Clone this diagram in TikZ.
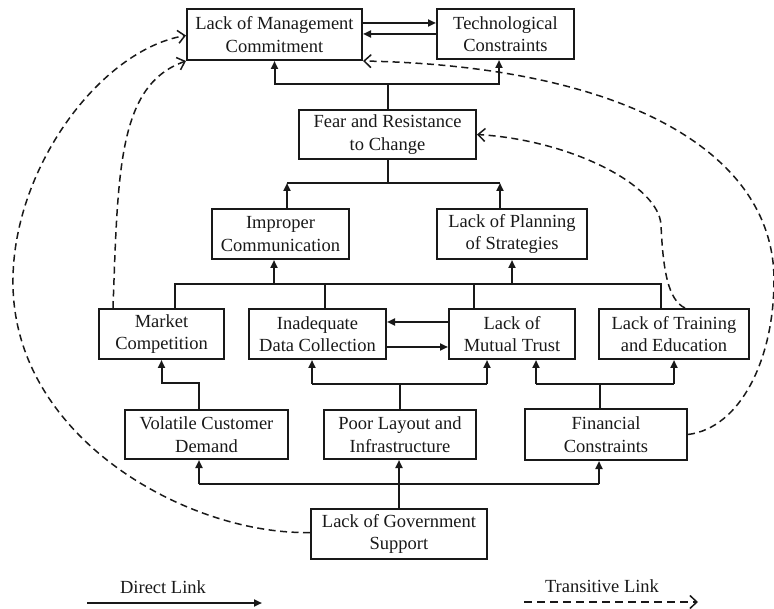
\documentclass[tikz,border=0pt]{standalone}
\usepackage{fontspec}
\setmainfont{Liberation Serif}
\usetikzlibrary{arrows.meta}
\begin{document}
\begin{tikzpicture}[x=1pt,y=-1pt,
 box/.style={draw=black!90, line width=2pt, minimum height=50pt, inner sep=0pt, align=center, font=\fontsize{18.5}{22.5}\selectfont, text=black!90},
 link/.style={line width=2pt, draw=black!90},
 arr/.style={link, -{Triangle[length=8pt,width=7pt]}},
 tlink/.style={line width=1.5pt, draw=black!90, dash pattern=on 7pt off 4.5pt, -{Straight Barb[length=7pt,width=13pt]}},
 lbl/.style={font=\fontsize{18.5}{22.5}\selectfont, text=black!90, inner sep=0pt}]
\useasboundingbox (0,0) rectangle (774,609);
% nodes
\node[box, minimum width=175pt, minimum height=51pt] (lmc) at (274.5,34.5) {Lack of Management\\Commitment};
\node[box, minimum width=137pt] (tc) at (505.5,34) {Technological\\Constraints};
\node[box, minimum width=177pt, minimum height=49pt] (frc) at (387.5,134.5) {Fear and Resistance\\to Change};
\node[box, minimum width=137pt] (ic) at (280.5,234) {Improper\\Communication};
\node[box, minimum width=150pt] (lps) at (512,234) {Lack of Planning\\of Strategies};
\node[box, minimum width=125pt] (mc) at (161.5,334) {Market\\Competition};
\node[box, minimum width=137pt] (idc) at (317.5,334) {Inadequate\\Data Collection};
\node[box, minimum width=126pt] (lmt) at (512,334) {Lack of\\Mutual Trust};
\node[box, minimum width=150pt] (lte) at (674,334) {Lack of Training\\and Education};
\node[box, minimum width=163pt, minimum height=49pt] (vcd) at (206.5,434.5) {Volatile Customer\\Demand};
\node[box, minimum width=152pt, minimum height=49pt] (pli) at (400,434.5) {Poor Layout and\\Infrastructure};
\node[box, minimum width=162pt, minimum height=51pt] (fc) at (606,434.5) {Financial\\Constraints};
\node[box, minimum width=176pt] (lgs) at (399,534) {Lack of Government\\Support};
% junction coordinates
\coordinate (j1) at (387.5,84);
\coordinate (j2) at (387.5,183);
\coordinate (j3) at (0,284);
\coordinate (j4) at (0,383);
\coordinate (j5) at (0,384);
\coordinate (j6) at (0,484);
% top pair
\draw[arr] ([yshift=11.5pt]lmc.east) -- ([yshift=11.5pt]lmc.east -| tc.west);
\draw[arr] (tc.west) -- (tc.west -| lmc.east);
% fear -> lmc, tc
\draw[link] (frc.north) -- (j1);
\draw[arr] (j1) -| (lmc.south);
\draw[arr] (j1) -| ([xshift=-6.5pt]tc.south);
% ic, lps -> fear
\draw[link] (frc.south) -- (j2);
\draw[link] ([xshift=6.5pt]ic.north |- j2) -- ([xshift=-12pt]lps.north |- j2);
\draw[arr] ([xshift=6.5pt]ic.north) -- ([xshift=6.5pt]ic.north |- j2);
\draw[arr] ([xshift=-12pt]lps.north) -- ([xshift=-12pt]lps.north |- j2);
% row 4 -> ic, lps
\draw[link] ([xshift=13.5pt]mc.north) -- ([xshift=13.5pt]mc.north |- j3) -- ([xshift=-13pt]lte.north |- j3) -- ([xshift=-13pt]lte.north);
\draw[link] ([xshift=7.5pt]idc.north) -- ([xshift=7.5pt]idc.north |- j3);
\draw[link] ([xshift=-38pt]lmt.north) -- ([xshift=-38pt]lmt.north |- j3);
\draw[arr] ([xshift=-6.5pt]ic.south |- j3) -- ([xshift=-6.5pt]ic.south);
\draw[arr] (lps.south |- j3) -- (lps.south);
% idc <-> lmt
\draw[arr] ([yshift=12pt]lmt.west) -- ([yshift=12pt]lmt.west -| idc.east);
\draw[arr] ([yshift=-13pt]idc.east) -- ([yshift=-13pt]idc.east -| lmt.west);
% vcd -> mc
\draw[arr] ([xshift=-7.5pt]vcd.north) -- ([xshift=-7.5pt]vcd.north |- j4) -| (mc.south);
% pli -> idc, lmt
\draw[link] (pli.north) -- (pli.north |- j5);
\draw[link] ([xshift=-5.5pt]idc.south |- j5) -- ([xshift=-25pt]lmt.south |- j5);
\draw[arr] ([xshift=-5.5pt]idc.south |- j5) -- ([xshift=-5.5pt]idc.south);
\draw[arr] ([xshift=-25pt]lmt.south |- j5) -- ([xshift=-25pt]lmt.south);
% fc -> lmt, lte
\draw[link] ([xshift=-6pt]fc.north) -- ([xshift=-6pt]fc.north |- j5);
\draw[link] ([xshift=24pt]lmt.south |- j5) -- (lte.south |- j5);
\draw[arr] ([xshift=24pt]lmt.south |- j5) -- ([xshift=24pt]lmt.south);
\draw[arr] (lte.south |- j5) -- (lte.south);
% lgs -> vcd, pli, fc
\draw[arr] (lgs.north) -- (lgs.north |- pli.south);
\draw[link] ([xshift=-7.5pt]vcd.south |- j6) -- ([xshift=-7pt]fc.south |- j6);
\draw[arr] ([xshift=-7.5pt]vcd.south |- j6) -- ([xshift=-7.5pt]vcd.south);
\draw[arr] ([xshift=-7pt]fc.south |- j6) -- ([xshift=-7pt]fc.south);
% transitive links
\draw[tlink] ([yshift=1.5pt]lgs.west) .. controls (190,535) and (15,440) .. (13,285)
  .. controls (11,170) and (100,50) .. ([yshift=-1pt]lmc.west);
\draw[tlink] ([xshift=-48.5pt]mc.north) .. controls (118,170) and (118,85) .. (lmc.south west);
\draw[tlink] (fc.east) .. controls (740,428) and (774,360) .. (774,280)
  .. controls (774,150) and (620,66) .. (lmc.south east);
\draw[tlink] ([xshift=11pt]lte.north) .. controls (668,300) and (663,270) .. (661,225)
  .. controls (659,185) and (570,140) .. (frc.east);
% legend
\node[lbl] (dl) at (163,587) {Direct Link};
\node[lbl] (tl) at (602,586) {Transitive Link};
\coordinate (dla) at (87,603);
\coordinate (dlb) at (262,603);
\coordinate (tla) at (524,602);
\coordinate (tlb) at (698,602);
\draw[arr] (dla) -- (dlb);
\draw[tlink, dash pattern=on 8pt off 5pt] (tla) -- (tlb);
\end{tikzpicture}
\end{document}
